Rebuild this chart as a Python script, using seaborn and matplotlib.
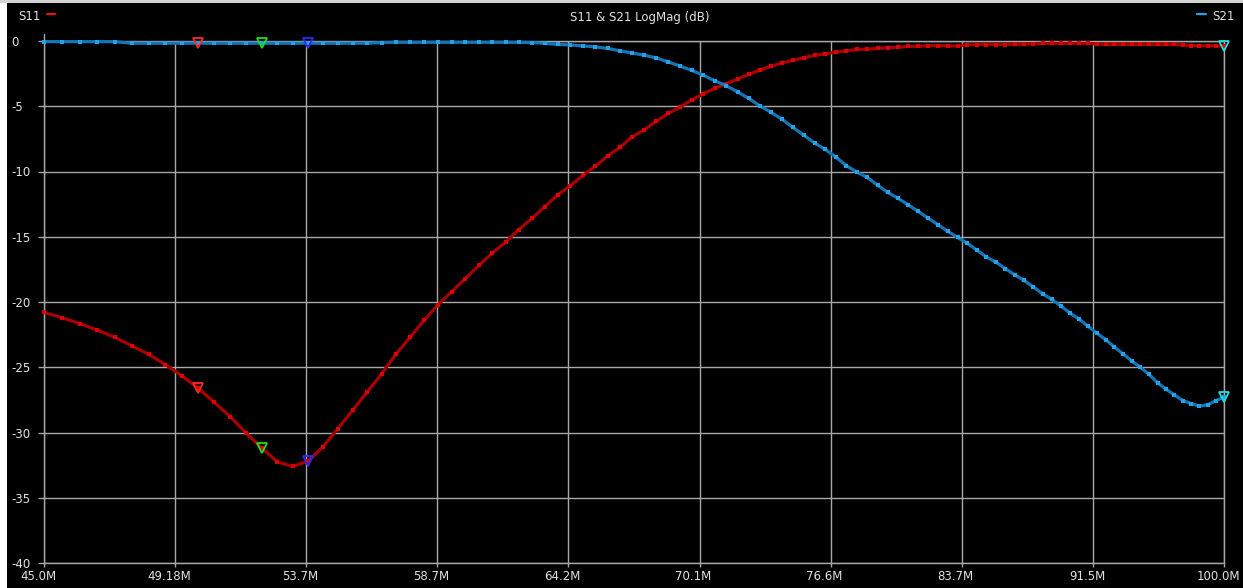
import numpy as np
import pandas as pd
import matplotlib
matplotlib.use("Agg")
import matplotlib.pyplot as plt
import matplotlib.transforms as mtransforms
from matplotlib.patches import Rectangle
from matplotlib.lines import Line2D
from matplotlib.ticker import NullLocator
import seaborn as sns

# 101-point linear sweep, 45 MHz .. 100 MHz
freq_mhz = np.linspace(45.0, 100.0, 101)

s11_db = [
    -20.8, -21.2, -21.65, -22.15, -22.7, -23.35, -24.0, -24.8, -25.65, -26.6,
    -27.7, -28.8, -30.05, -31.2, -32.25, -32.6, -32.2, -31.1, -29.7, -28.3,
    -26.9, -25.5, -24.0, -22.7, -21.4, -20.2, -19.2, -18.2, -17.2, -16.25,
    -15.4, -14.45, -13.6, -12.7, -11.8, -11.1, -10.3, -9.6, -8.8, -8.15,
    -7.35, -6.8, -6.15, -5.55, -5.08, -4.52, -4.05, -3.62, -3.28, -2.92,
    -2.55, -2.22, -1.94, -1.68, -1.48, -1.28, -1.1, -0.98, -0.85, -0.75,
    -0.65, -0.62, -0.57, -0.5, -0.48, -0.42, -0.42, -0.35, -0.35, -0.36,
    -0.38, -0.3, -0.27, -0.27, -0.27, -0.27, -0.26, -0.25, -0.2, -0.18,
    -0.18, -0.18, -0.18, -0.18, -0.18, -0.22, -0.26, -0.26, -0.26, -0.26,
    -0.26, -0.26, -0.26, -0.26, -0.26, -0.3, -0.35, -0.36, -0.36, -0.36, -0.36,
]

s21_db = [
    -0.05, -0.05, -0.05, -0.05, -0.05, -0.17, -0.17, -0.17, -0.17, -0.17,
    -0.17, -0.17, -0.17, -0.17, -0.17, -0.17, -0.17, -0.17, -0.17, -0.17,
    -0.17, -0.12, -0.1, -0.1, -0.1, -0.1, -0.1, -0.1, -0.1, -0.1,
    -0.1, -0.1, -0.12, -0.18, -0.26, -0.3, -0.38, -0.45, -0.57, -0.75,
    -0.92, -1.09, -1.3, -1.6, -1.92, -2.25, -2.62, -3.05, -3.42, -3.9,
    -4.4, -4.97, -5.47, -6.0, -6.62, -7.22, -7.82, -8.3, -8.9, -9.55,
    -10.05, -10.45, -11.05, -11.6, -12.05, -12.55, -13.05, -13.57, -14.08, -14.58,
    -15.05, -15.5, -16.02, -16.55, -16.95, -17.45, -17.92, -18.35, -18.85, -19.38,
    -19.8, -20.3, -20.85, -21.3, -21.85, -22.38, -22.88, -23.45, -23.98, -24.52,
    -25.0, -25.55, -26.18, -26.68, -27.12, -27.55, -27.78, -27.97, -27.88, -27.55, -27.3,
]

# sweep-point indices carrying the four markers
marker_idx = [9, 13, 16, 100]
marker_colors = ["#ff2a2a", "#22dd22", "#2a2aff", "#22dddd"]

x_tick_labels = ["45.0M", "49.18M", "53.7M", "58.7M", "64.2M",
                 "70.1M", "76.6M", "83.7M", "91.5M", "100.0M"]
y_ticks = [0, -5, -10, -15, -20, -25, -30, -35, -40]
y_tick_labels = ["0", "-5", "-10", "-15", "-20", "-25", "-30", "-35", "-40"]

title_text = "S11 & S21 LogMag (dB)"

GRID = "#a8a8a8"
TXT = "#e2e2e2"
S11_LINE, S11_DOT = "#a80000", "#de0000"
S21_LINE, S21_DOT = "#1675b4", "#22a2ea"

sns.set_theme(style="dark", rc={
    "axes.facecolor": "black",
    "figure.facecolor": "black",
    "axes.edgecolor": GRID,
    "grid.color": GRID,
    "xtick.color": GRID,
    "ytick.color": GRID,
    "text.color": TXT,
})
plt.rcParams["font.family"] = ["DejaVu Sans"]

W, H = 1243, 588
fig = plt.figure(figsize=(W / 100, H / 100), dpi=100)

# screen border strips
fig.patches.append(Rectangle((0, 0), 7 / W, 1, transform=fig.transFigure,
                             facecolor="white", edgecolor="none", zorder=-1))
fig.patches.append(Rectangle((0, 1 - 3 / H), 1, 3 / H, transform=fig.transFigure,
                             facecolor="#d4d4d4", edgecolor="none", zorder=-1))

ax = fig.add_axes([44 / W, (H - 563) / H, 1180 / W, 522 / H])

df = pd.DataFrame({"freq": freq_mhz, "S11": s11_db, "S21": s21_db})

sns.lineplot(data=df, x="freq", y="S11", ax=ax, color=S11_LINE, lw=2.3,
             marker="s", markersize=2.5, markerfacecolor=S11_DOT,
             markeredgewidth=0, zorder=3, clip_on=False)
sns.lineplot(data=df, x="freq", y="S21", ax=ax, color=S21_LINE, lw=2.3,
             marker="s", markersize=2.5, markerfacecolor=S21_DOT,
             markeredgewidth=0, zorder=4, clip_on=False)

for idx, col in zip(marker_idx, marker_colors):
    for series in (df["S11"], df["S21"]):
        ax.plot(df["freq"].iloc[idx], series.iloc[idx], marker="v", ms=6.5,
                mfc="none", mec=col, mew=1.3, zorder=6, clip_on=False)

ax.set_xscale("log")
ax.set_xlim(45.0, 100.0)
ax.set_ylim(-40, 0)
ax.set_xticks(np.geomspace(45.0, 100.0, len(x_tick_labels)))
ax.set_xticklabels(x_tick_labels)
ax.xaxis.set_minor_locator(NullLocator())
ax.set_yticks(y_ticks)
ax.set_yticklabels(y_tick_labels)
ax.set_xlabel("")
ax.set_ylabel("")

ax.grid(True, color=GRID, lw=1.0)
ax.set_axisbelow(True)
for sp in ax.spines.values():
    sp.set_visible(True)
    sp.set_color(GRID)
    sp.set_linewidth(1.0)

ax.tick_params(axis="x", length=3.0, width=1.0, pad=2.0, labelsize=8.5,
               labelcolor=TXT, bottom=True)
ax.tick_params(axis="y", length=4.3, width=1.0, pad=19.5, labelsize=8.5,
               labelcolor=TXT, left=True)
for lbl in ax.get_yticklabels():
    lbl.set_horizontalalignment("left")
shift = mtransforms.ScaledTranslation(-6 / 100, 0, fig.dpi_scale_trans)
for lbl in ax.get_xticklabels():
    lbl.set_transform(lbl.get_transform() + shift)

# left axis line reaches slightly above the 0 dB line
ax.add_line(Line2D([0, 0], [1, 1 + 7 / 522], transform=ax.transAxes,
                   color=GRID, lw=1.0, clip_on=False))

fig.text(640 / W, 1 - 17 / H, title_text, ha="center", va="center",
         fontsize=8.5, color=TXT)

fig.text(18 / W, 1 - 17 / H, "S11", ha="left", va="center", fontsize=8.5, color=TXT)
fig.add_artist(Line2D([47 / W, 55 / W], [1 - 14 / H, 1 - 14 / H],
                      transform=fig.transFigure, color="#ee1111", lw=1.6))
fig.text(1235 / W, 1 - 17 / H, "S21", ha="right", va="center", fontsize=8.5, color=TXT)
fig.add_artist(Line2D([1197 / W, 1206 / W], [1 - 14 / H, 1 - 14 / H],
                      transform=fig.transFigure, color="#22a0e8", lw=1.6))

fig.savefig("out.png", dpi=100, facecolor=fig.get_facecolor())
